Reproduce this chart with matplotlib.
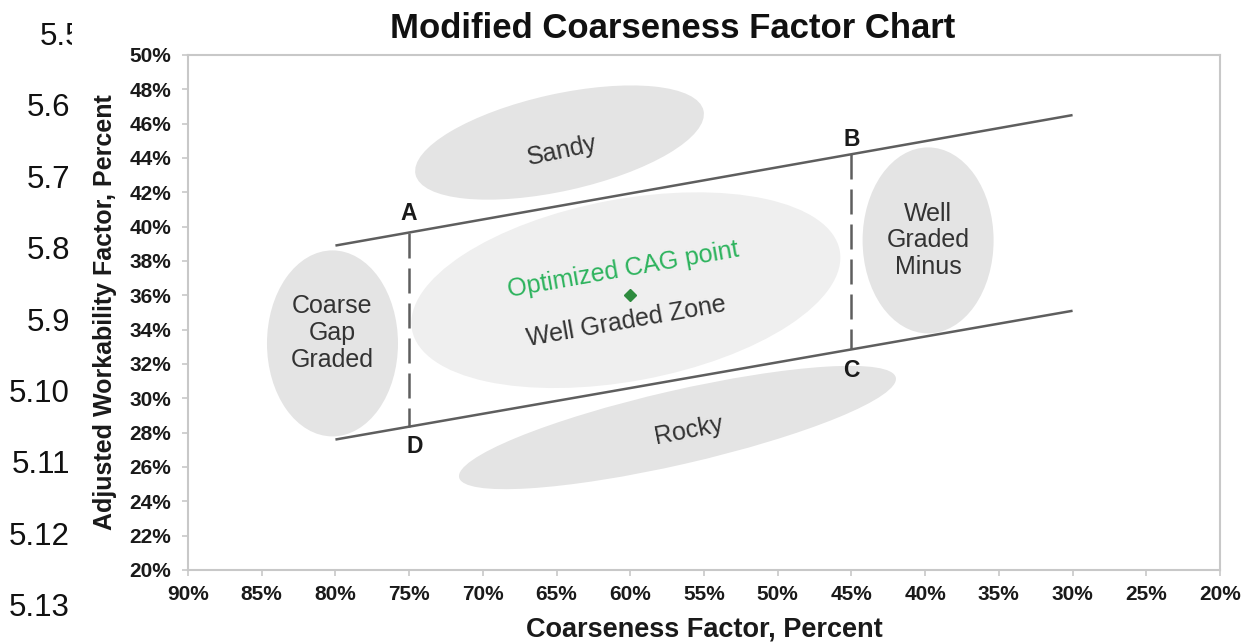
import matplotlib
matplotlib.use("Agg")
import matplotlib.pyplot as plt
from matplotlib.patches import Ellipse, Rectangle
from matplotlib.transforms import ScaledTranslation
from matplotlib.ticker import FuncFormatter

plt.rcParams['font.family'] = ['Liberation Sans', 'DejaVu Sans']

# ---------------- data ----------------
x_ticks = [90, 85, 80, 75, 70, 65, 60, 55, 50, 45, 40, 35, 30, 25, 20]
y_ticks = [20, 22, 24, 26, 28, 30, 32, 34, 36, 38, 40, 42, 44, 46, 48, 50]

upper_x = [80, 30]
upper_y = [38.9, 46.5]
lower_x = [80, 30]
lower_y = [27.6, 35.1]

dash_x = [75, 45]
dash_top = [39.66, 44.22]
dash_bot = [28.35, 32.85]

point_labels = ['A', 'B', 'C', 'D']
point_x = [75, 45, 45, 74.6]
point_y = [40.75, 45.05, 31.65, 27.2]

zone_names = ['Sandy', 'Well Graded Zone', 'Coarse\nGap\nGraded', 'Well\nGraded\nMinus', 'Rocky']
zone_x = [64.8, 60.3, 80.2, 39.8, 56.8]
zone_y = [44.9, 36.3, 33.2, 39.2, 28.3]

opt_x = [60]
opt_y = [36]

margin_labels = ['5.5', '5.6', '5.7', '5.8', '5.9', '5.10', '5.11', '5.12', '5.13']

# ---------------- layout ----------------
W, H, DPI = 1251, 644, 100
fig = plt.figure(figsize=(W / DPI, H / DPI), dpi=DPI)
ax = fig.add_axes([188 / W, 1 - 570 / H, (1220 - 188) / W, (570 - 55) / H])

ax.set_xlim(90, 20)
ax.set_ylim(20, 50)
ax.set_xticks(x_ticks)
ax.set_yticks(y_ticks)
ax.xaxis.set_major_formatter(FuncFormatter(lambda v, p: f"{v:.0f}%"))
ax.yaxis.set_major_formatter(FuncFormatter(lambda v, p: f"{v:.0f}%"))
for s in ax.spines.values():
    s.set_color('#c8c8c8')
    s.set_linewidth(1.5)
ax.tick_params(axis='both', direction='out', length=4, width=1.2, color='#c8c8c8',
               labelsize=15, labelcolor='#1a1a1a')
ax.tick_params(axis='x', pad=7)
ax.tick_params(axis='y', pad=8)
for lab in ax.get_xticklabels() + ax.get_yticklabels():
    lab.set_fontweight('bold')

ax.set_xlabel('Coarseness Factor, Percent', fontsize=19.5, fontweight='bold', color='#1a1a1a', labelpad=9)
ax.set_ylabel('Adjusted Workability Factor, Percent', fontsize=18, fontweight='bold', color='#1a1a1a', labelpad=9)

# zone ellipses: (width px, height px, angle deg, color)
zone_geom = [
    (295, 97, 12.5, '#e4e4e4'),
    (435, 182, 10.5, '#efefef'),
    (131, 186, 0, '#e4e4e4'),
    (131, 186, 0, '#e4e4e4'),
    (448, 74, 12.9, '#e4e4e4'),
]
for (w, h, ang, col), cx, cy in zip(zone_geom, zone_x, zone_y):
    tr = fig.dpi_scale_trans + ScaledTranslation(cx, cy, ax.transData)
    ax.add_patch(Ellipse((0, 0), w / DPI, h / DPI, angle=ang, transform=tr,
                         facecolor=col, edgecolor='none', zorder=1))

FS = 18
# zone labels
ax.text(zone_x[0] - 0.2, zone_y[0] - 0.5, 'Sandy', rotation=12, fontsize=FS, color='#333333',
        ha='center', va='center', zorder=3, rotation_mode='anchor')
ax.text(zone_x[1], zone_y[1] - 1.8, 'Well Graded Zone', rotation=10, fontsize=FS, color='#333333',
        ha='center', va='center', zorder=3, rotation_mode='anchor')
ax.text(zone_x[2], zone_y[2] + 0.6, zone_names[2], fontsize=FS, color='#333333',
        ha='center', va='center', zorder=3, linespacing=1.15)
ax.text(zone_x[3], zone_y[3], zone_names[3], fontsize=FS, color='#333333',
        ha='center', va='center', zorder=3, linespacing=1.15)
ax.text(zone_x[4] - 0.8, zone_y[4] - 0.2, 'Rocky', rotation=11, fontsize=FS, color='#333333',
        ha='center', va='center', zorder=3, rotation_mode='anchor')

# optimized point
ax.plot(opt_x, opt_y, marker='D', markersize=6, color='#2e8b3e', linestyle='none', zorder=4)
ax.text(opt_x[0] + 0.5, opt_y[0] + 1.5, 'Optimized CAG point', rotation=10, fontsize=FS,
        color='#2db35d', ha='center', va='center', zorder=3, rotation_mode='anchor')

# boundary lines
ax.plot(upper_x, upper_y, color='#5e5e5e', lw=1.8, zorder=2, solid_capstyle='butt')
ax.plot(lower_x, lower_y, color='#5e5e5e', lw=1.8, zorder=2, solid_capstyle='butt')
for dx, t, b in zip(dash_x, dash_top, dash_bot):
    ax.plot([dx, dx], [t, b], color='#5e5e5e', lw=1.8, linestyle=(0, (10, 4)), zorder=2)

for lab, px, py in zip(point_labels, point_x, point_y):
    ax.text(px, py, lab, fontsize=16.5, fontweight='bold', color='#1a1a1a',
            ha='center', va='center', zorder=3)

# title
fig.text(673 / W, 1 - 28 / H, 'Modified Coarseness Factor Chart', fontsize=25, fontweight='bold',
         color='#111111', ha='center', va='center')

# margin numbers
for i, lab in enumerate(margin_labels):
    yp = 37 + i * 71.4
    xr = 83 if i == 0 else 70
    fig.text(xr / W, 1 - yp / H, lab, fontsize=22.5, color='#111111', ha='right', va='center')
fig.patches.append(Rectangle((72 / W, 1 - 70 / H), 20 / W, 60 / H, transform=fig.transFigure,
                             facecolor='white', edgecolor='none', zorder=5))

fig.savefig('out.png', dpi=DPI, facecolor='white')
